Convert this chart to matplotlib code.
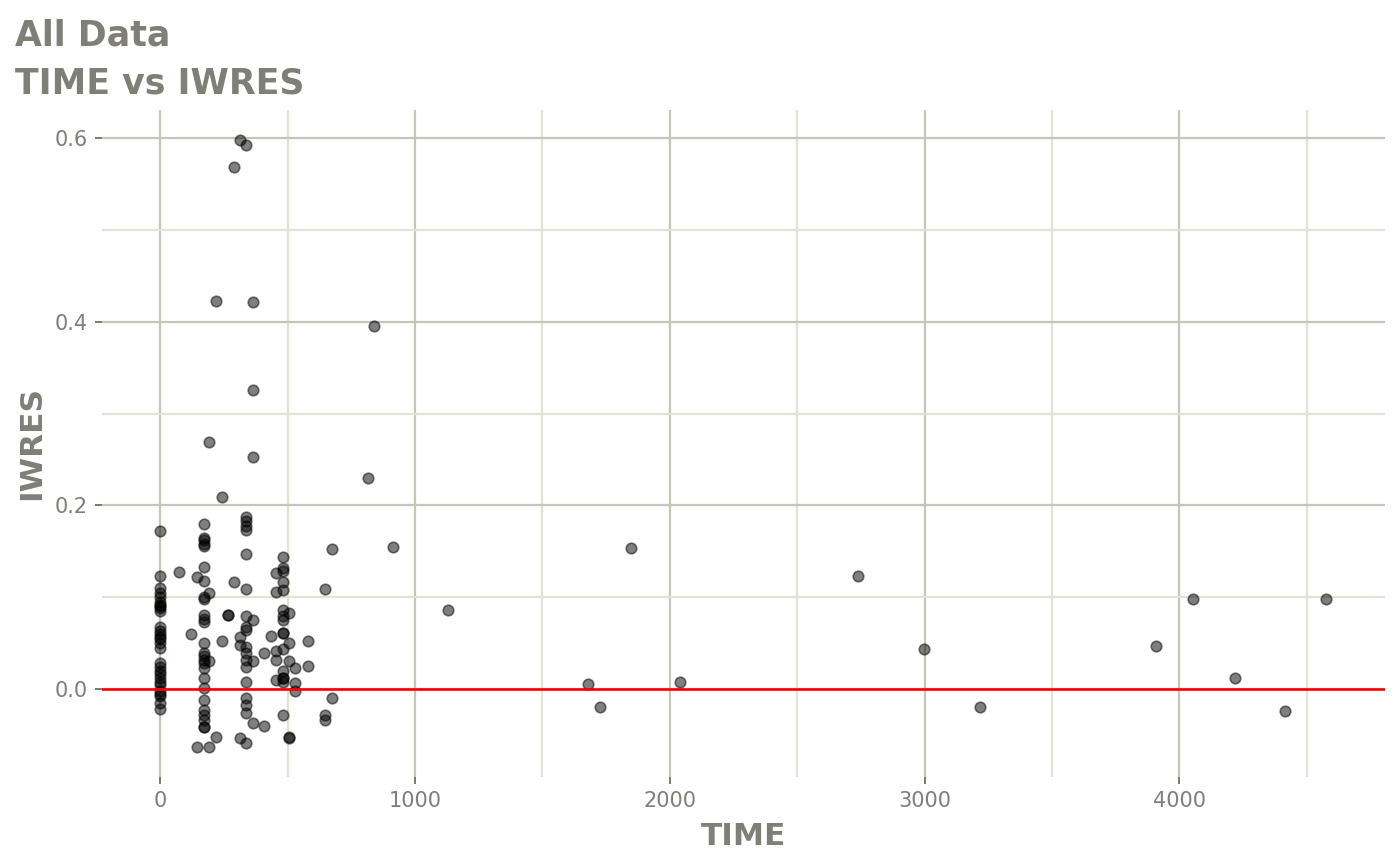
"""TIME vs IWRES residual scatter (All Data)."""

import matplotlib
matplotlib.use("Agg")
import matplotlib.pyplot as plt
from matplotlib.ticker import MultipleLocator

# values, grouped roughly by sampling time
TIME_0 = [0] * 29
IWRES_0 = [0.172, 0.123, 0.110, 0.105, 0.100, 0.095, 0.092, 0.090, 0.088, 0.085,
           0.068, 0.063, 0.060, 0.057, 0.054, 0.050, 0.045, 0.028, 0.024, 0.020,
           0.016, 0.012, 0.008, 0.004, -0.002, -0.005, -0.008, -0.015, -0.022]

TIME_170 = [170] * 26
IWRES_170 = [0.180, 0.165, 0.162, 0.158, 0.156, 0.133, 0.118, 0.100, 0.098, 0.081,
             0.076, 0.073, 0.050, 0.039, 0.036, 0.032, 0.028, 0.023, 0.012, 0.001,
             -0.012, -0.023, -0.028, -0.034, -0.041, -0.042]

TIME_337 = [337] * 19
IWRES_337 = [0.593, 0.187, 0.183, 0.178, 0.173, 0.147, 0.109, 0.079, 0.068, 0.064,
             0.046, 0.039, 0.032, 0.024, 0.008, -0.010, -0.018, -0.026, -0.059]

TIME_481 = [481] * 16
IWRES_481 = [0.144, 0.132, 0.128, 0.117, 0.108, 0.086, 0.079, 0.075, 0.061, 0.061,
             0.043, 0.019, 0.012, 0.008, 0.012, -0.028]

TIME_REST = [75, 122, 145, 145, 193, 193, 193, 193, 218, 220, 242, 242, 265, 265,
             290, 290, 311, 311, 311, 314, 362, 362, 362, 362, 362, 362,
             408, 408, 434, 455, 455, 455, 455, 455, 507, 507, 507, 507, 507,
             529, 529, 529, 578, 578, 647, 647, 647, 673, 673, 816, 840, 912, 1131,
             1678, 1725, 1847, 2039, 2737, 2996, 3216, 3906, 4055, 4216, 4416, 4576]
IWRES_REST = [0.127, 0.060, 0.122, -0.063, 0.104, 0.030, -0.063, 0.269, 0.423, -0.052,
              0.209, 0.052, 0.081, 0.081, 0.116, 0.569, 0.057, 0.048, -0.054, 0.598,
              0.422, 0.326, 0.253, 0.075, 0.030, -0.037,
              0.039, -0.040, 0.058, 0.126, 0.106, 0.041, 0.032, 0.010,
              0.083, 0.050, 0.030, -0.052, -0.053,
              0.023, 0.006, -0.002, 0.052, 0.025, 0.109, -0.028, -0.034, 0.153, -0.010,
              0.230, 0.395, 0.155, 0.086,
              0.005, -0.020, 0.154, 0.008, 0.123, 0.044, -0.020, 0.047, 0.098, 0.012,
              -0.024, 0.098]

time = TIME_0 + TIME_170 + TIME_337 + TIME_481 + TIME_REST
iwres = IWRES_0 + IWRES_170 + IWRES_337 + IWRES_481 + IWRES_REST

GREY = "#7f7f78"
MAJOR = "#c6c6b8"
MINOR = "#e3e3d4"

fig = plt.figure(figsize=(14, 8.65), dpi=100)
ax = fig.add_axes([0.0728, 0.1017, 0.9162, 0.7713])

ax.scatter(time, iwres, s=58, facecolor="black", edgecolor="black",
           linewidth=1.2, alpha=0.5, zorder=3)
ax.axhline(0, color="red", linewidth=1.9, zorder=4)

ax.set_xlim(-229, 4805)
ax.set_ylim(-0.096, 0.631)
ax.xaxis.set_major_locator(MultipleLocator(1000))
ax.xaxis.set_minor_locator(MultipleLocator(500))
ax.yaxis.set_major_locator(MultipleLocator(0.2))
ax.yaxis.set_minor_locator(MultipleLocator(0.1))
ax.yaxis.set_major_formatter(lambda v, p: f"{v:.1f}")

ax.grid(True, which="major", color=MAJOR, linewidth=1.6, zorder=0)
ax.grid(True, which="minor", color=MINOR, linewidth=1.6, zorder=0)
ax.set_axisbelow(True)
for s in ax.spines.values():
    s.set_visible(False)

ax.tick_params(which="major", length=5, width=1.4, color="#7a7a72",
               labelcolor=GREY, labelsize=15, pad=5)
ax.tick_params(which="minor", length=0)

ax.set_xlabel("TIME", fontsize=22.5, fontweight="bold", color=GREY, labelpad=8)
ax.set_ylabel("IWRES", fontsize=22.5, fontweight="bold", color=GREY, labelpad=6)

fig.text(15 / 1400, 1 - 45 / 865, "All Data", fontsize=25, fontweight="bold",
         color=GREY, ha="left", va="baseline")
fig.text(15 / 1400, 1 - 93 / 865, "TIME vs IWRES", fontsize=25, fontweight="bold",
         color=GREY, ha="left", va="baseline")

fig.savefig("out.png", dpi=100)
